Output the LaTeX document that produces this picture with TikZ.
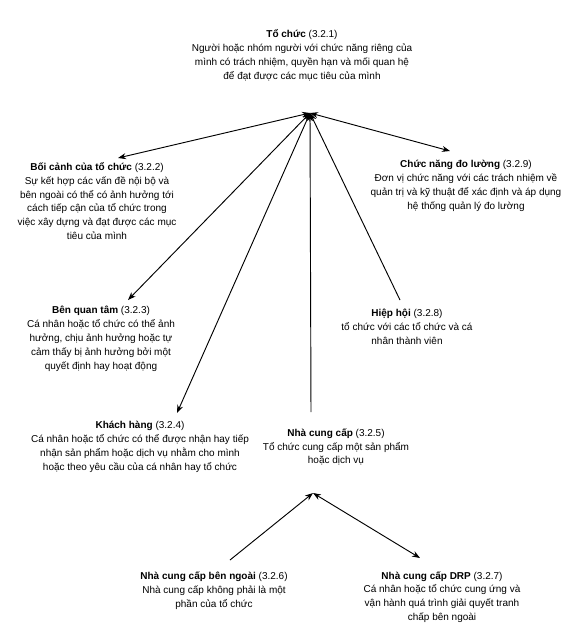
\documentclass[tikz,border=0pt]{standalone}
\usepackage{fontspec}
\setmainfont{Liberation Sans}
\usetikzlibrary{positioning, arrows.meta}

\begin{document}
\begin{tikzpicture}[x=0.75pt, y=-0.75pt,
  concept/.style={align=center, font=\fontsize{7.5}{10.4}\selectfont, inner sep=0pt},
  link/.style={line width=0.7pt, -{Stealth[length=6pt,width=4.5pt]}},
  dlink/.style={line width=0.7pt, {Stealth[length=6pt,width=4.5pt]}-{Stealth[length=6pt,width=4.5pt]}}]
  \useasboundingbox (0,0) rectangle (573,637);

  % concepts
  \node[concept] (org) at (302,55) {\textbf{Tổ chức} (3.2.1)\\
    Người hoặc nhóm người với chức năng riêng của\\
    mình có trách nhiệm, quyền hạn và mối quan hệ\\
    để đạt được các mục tiêu của mình};
  \node[concept] (ctx) at (97,201) {\textbf{Bối cảnh của tổ chức} (3.2.2)\\
    Sự kết hợp các vấn đề nội bộ và\\
    bên ngoài có thể có ảnh hưởng tới\\
    cách tiếp cận của tổ chức trong\\
    việc xây dựng và đạt được các mục\\
    tiêu của mình};
  \node[concept] (meas) at (466,186) {\textbf{Chức năng đo lường} (3.2.9)\\
    Đơn vị chức năng với các trách nhiệm về\\
    quản trị và kỹ thuật để xác định và áp dụng\\
    hệ thống quản lý đo lường};
  \node[concept] (party) at (101,339) {\textbf{Bên quan tâm} (3.2.3)\\
    Cá nhân hoặc tổ chức có thể ảnh\\
    hưởng, chịu ảnh hưởng hoặc tự\\
    cảm thấy bị ảnh hưởng bởi một\\
    quyết định hay hoạt động};
  \node[concept] (assoc) at (407,327) {\textbf{Hiệp hội} (3.2.8)\\
    tổ chức với các tổ chức và cá\\
    nhân thành viên};
  \node[concept] (cust) at (140,447) {\textbf{Khách hàng} (3.2.4)\\
    Cá nhân hoặc tổ chức có thể được nhận hay tiếp\\
    nhận sản phẩm hoặc dịch vụ nhằm cho mình\\
    hoặc theo yêu cầu của cá nhân hay tổ chức};
  \node[concept] (supp) at (336,447) {\textbf{Nhà cung cấp} (3.2.5)\\
    Tổ chức cung cấp một sản phẩm\\
    hoặc dịch vụ};
  \node[concept] (ext) at (214,591) {\textbf{Nhà cung cấp bên ngoài} (3.2.6)\\
    Nhà cung cấp không phải là một\\
    phần của tổ chức};
  \node[concept] (drp) at (442,597) {\textbf{Nhà cung cấp DRP} (3.2.7)\\
    Cá nhân hoặc tổ chức cung ứng và\\
    vận hành quá trình giải quyết tranh\\
    chấp bên ngoài};

  % connector ends
  \coordinate (hub) at (310,113);
  \coordinate (ctx-end) at (118,158);
  \coordinate (meas-end) at (450,151);
  \coordinate (party-end) at (128,300);
  \coordinate (cust-end) at (177,413);
  \coordinate (supp-end) at (311,412);
  \coordinate (assoc-end) at (400,300);
  \coordinate (split) at (313,493);
  \coordinate (ext-end) at (230,560);
  \coordinate (drp-end) at (420,558);

  % relations
  \draw[dlink] (hub) -- (ctx-end);
  \draw[dlink] (hub) -- (meas-end);
  \draw[dlink] (hub) -- (party-end);
  \draw[dlink] (hub) -- (cust-end);
  \draw[link] (supp-end) -- (hub);
  \draw[link] (assoc-end) -- (hub);
  \draw[link] (ext-end) -- (split);
  \draw[dlink] (split) -- (drp-end);
\end{tikzpicture}
\end{document}
